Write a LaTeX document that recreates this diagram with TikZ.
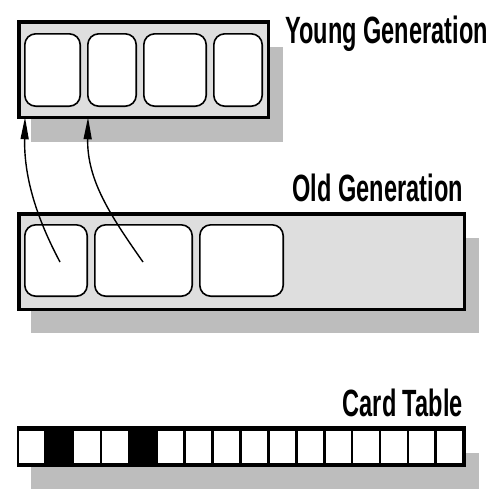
\documentclass[tikz,border=0pt]{standalone}
\usepackage{fontspec}
\newfontfamily\labfont{Liberation Sans}[FakeStretch=0.62]
\usetikzlibrary{arrows.meta}
\definecolor{boxfill}{HTML}{DEDEDE}
\definecolor{shadowgray}{HTML}{BDBDBD}
\tikzset{
  x=1pt,y=-1pt,
  shadowbox/.style={fill=shadowgray,draw=none,inner sep=0pt,outer sep=0pt},
  genbox/.style={fill=boxfill,draw=black,line width=3.5pt,inner sep=0pt,outer sep=0pt},
  cellbox/.style={fill=white,draw=black,line width=1.6pt,rounded corners=11pt,inner sep=0pt,outer sep=0pt},
  cardbar/.style={fill=black,draw=none,inner sep=0pt,outer sep=0pt},
  cardwhite/.style={fill=white,draw=none,inner sep=0pt,outer sep=0pt,minimum width=25.2pt,minimum height=32pt},
  label/.style={font=\labfont\bfseries\fontsize{38}{38}\selectfont,inner sep=0pt,anchor=base east},
  ref/.style={line width=1.4pt,-{Triangle[length=22pt,width=8pt]}},
  box/.style args={#1x#2}{minimum width=#1pt,minimum height=#2pt}
}
\begin{document}
\begin{tikzpicture}
\useasboundingbox (0,0) rectangle (498,504);
% Young generation
\node[shadowbox,box=252x95] (ysh) at (157,94.5) {};
\node[genbox,box=249.5x95.5] (young) at (143.5,69.5) {};
\node[cellbox,box=55.4x72.4] (y1) at (52.5,70) {};
\node[cellbox,box=48.4x72.4] (y2) at (112,70) {};
\node[cellbox,box=62.4x72.4] (y3) at (175,70) {};
\node[cellbox,box=48.4x72.4] (y4) at (238,70) {};
\node[label] (ylab) at (488,43) {Young Generation};
% Old generation
\node[shadowbox,box=448x95] (osh) at (255,285.5) {};
\node[genbox,box=445.5x95.5] (old) at (241.5,261.5) {};
\node[cellbox,box=62.4x71.4] (o1) at (56,260.5) {};
\node[cellbox,box=97.4x71.4] (o2) at (143.5,260.5) {};
\node[cellbox,box=83.4x71.4] (o3) at (241.5,260.5) {};
\node[label] (olab) at (463,201) {Old Generation};
% arrows
\coordinate (a1) at (60,262);
\coordinate (b1) at ([xshift=-118.5pt]young.south);
\coordinate (a2) at (143,262);
\coordinate (b2) at ([xshift=-55.5pt]young.south);
\draw[ref] (a1) .. controls (35,215) and (24,175) .. (b1);
\draw[ref] (a2) .. controls (110,215) and (87,180) .. (b2);
% Card table
\node[shadowbox,box=448x36] (csh) at (255,471) {};
\node[cardbar,box=449x41] (card) at (241.5,446.5) {};
\foreach \i in {0,2,3,5,6,7,8,9,10,11,12,13,14,15}{
  \node[cardwhite] (c\i) at ({18.6+27.9*\i+12.6},446.5) {};
}
\node[label] (clab) at (463,416) {Card Table};
\end{tikzpicture}
\end{document}
